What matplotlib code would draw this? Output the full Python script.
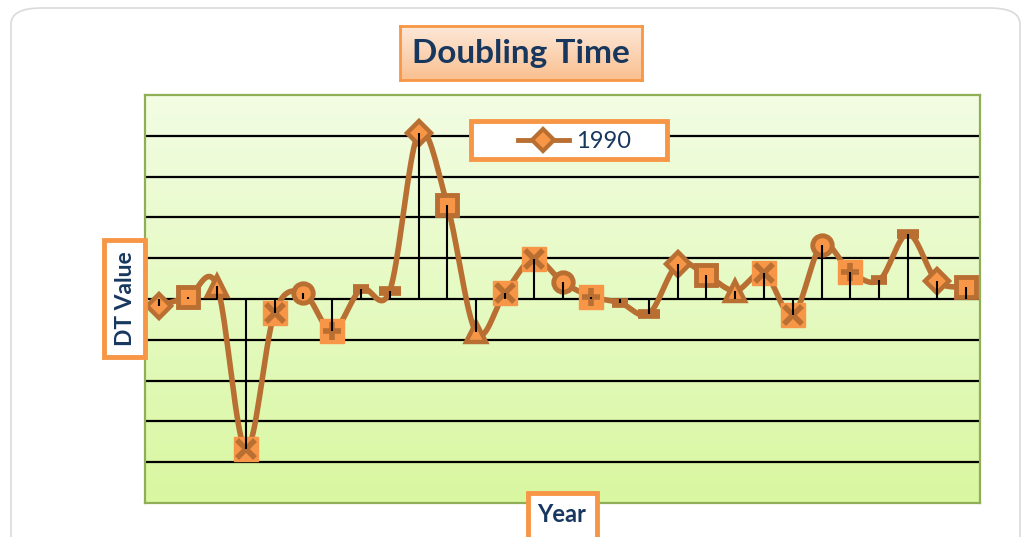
import numpy as np
import matplotlib
matplotlib.use('agg')
import matplotlib.pyplot as plt
from matplotlib.patches import FancyBboxPatch, Rectangle
from matplotlib.lines import Line2D

# values (one gridline = 1 unit)
years = list(range(1, 30))
dt_values = [-0.17, 0.05, 0.32, -3.68, -0.34, 0.15, -0.78, 0.24, 0.20, 4.06,
             2.30, -0.82, 0.15, 0.99, 0.42, 0.06, -0.09, -0.36, 0.85, 0.59,
             0.20, 0.64, -0.39, 1.32, 0.67, 0.46, 1.60, 0.44, 0.30]
series_name = '1990'
title = 'Doubling Time'
xlabel = 'Year'
ylabel = 'DT Value'

LINE = '#B96F32'
FILL = '#F79646'
NAVY = '#17375E'
W, H = 1024, 537


def fx(px):
    return px / W


def fy(py):
    return 1 - py / H


def smooth(x, y, n=20):
    # bezier smoothing like the spreadsheet "smoothed line" option
    x = np.asarray(x, float)
    y = np.asarray(y, float)
    xs, ys = [], []
    m = len(x)
    for i in range(m - 1):
        p0 = (x[max(i - 1, 0)], y[max(i - 1, 0)])
        p1 = (x[i], y[i])
        p2 = (x[i + 1], y[i + 1])
        p3 = (x[min(i + 2, m - 1)], y[min(i + 2, m - 1)])
        c1 = (p1[0] + (p2[0] - p0[0]) / 6, p1[1] + (p2[1] - p0[1]) / 6)
        c2 = (p2[0] - (p3[0] - p1[0]) / 6, p2[1] - (p3[1] - p1[1]) / 6)
        t = np.linspace(0, 1, n)
        a, b, c, d = (1 - t) ** 3, 3 * (1 - t) ** 2 * t, 3 * (1 - t) * t ** 2, t ** 3
        xs.append(a * p1[0] + b * c1[0] + c * c2[0] + d * p2[0])
        ys.append(a * p1[1] + b * c1[1] + c * c2[1] + d * p2[1])
    return np.concatenate(xs), np.concatenate(ys)


fig = plt.figure(figsize=(W / 100, H / 100), dpi=100)
fig.patch.set_facecolor('white')

# outer rounded chart frame
frame = FancyBboxPatch((fx(11), fy(560)), fx(1009), 552 / H,
                       boxstyle='round,pad=0,rounding_size=0.03',
                       transform=fig.transFigure, facecolor='white',
                       edgecolor='#DADADA', linewidth=1.2, zorder=-5)
fig.patches.append(frame)

ax = fig.add_axes([fx(145), fy(503), fx(980 - 145), (503 - 95) / H])
grad = np.linspace(0, 1, 256).reshape(-1, 1)
top = np.array([0.95, 0.99, 0.89])
bot = np.array([0.85, 0.97, 0.63])
img = top + (bot - top) * grad[:, :, None]
ax.imshow(img, extent=[0.5, 29.5, -5, 5], aspect='auto', zorder=0)
ax.set_xlim(0.5, 29.5)
ax.set_ylim(-5, 5)
for s in ax.spines.values():
    s.set_color('#8FAE55')
    s.set_linewidth(1.6)
ax.set_yticks(range(-4, 5))
ax.set_xticks([])
ax.tick_params(left=False, labelleft=False)
for v in range(-4, 5):
    ax.axhline(v, color='black', lw=1.6, zorder=1)

sx, sy = smooth(years, dt_values)
ax.plot(sx, sy, color=LINE, lw=4, zorder=3, solid_capstyle='round')

for i, (x, y) in enumerate(zip(years, dt_values)):
    k = i % 9
    if k == 0:
        ax.plot(x, y, 'D', ms=12, mfc=FILL, mec=LINE, mew=3.2, zorder=4)
    elif k == 1:
        ax.plot(x, y, 's', ms=14.5, mfc=FILL, mec=LINE, mew=3.5, zorder=4)
    elif k == 2:
        ax.plot(x, y, '^', ms=14, mfc=FILL, mec=LINE, mew=3.2, zorder=4)
    elif k in (3, 4):
        ax.plot(x, y, 's', ms=17, mfc=FILL, mec=FILL, mew=1, zorder=4)
        ax.plot(x, y, 'x', ms=13, mec=LINE, mew=4, zorder=4)
    elif k == 5:
        ax.plot(x, y, 'o', ms=14, mfc=FILL, mec=LINE, mew=3.5, zorder=4)
    elif k == 6:
        ax.plot(x, y, 's', ms=17, mfc=FILL, mec=FILL, mew=1, zorder=4)
        ax.plot(x, y, '+', ms=13, mec=LINE, mew=4, zorder=4)
    else:
        ax.plot(x, y, '_', ms=16 if k == 8 else 12, mec=LINE, mew=7, zorder=4)

# drop lines
ax.vlines(years, 0, dt_values, color='black', lw=1.5, zorder=5)

# legend
fig.patches.append(Rectangle((fx(471), fy(159)), fx(196), 38 / H, transform=fig.transFigure,
                             facecolor='white', edgecolor=FILL, lw=3.5, zorder=6))
fig.lines.append(Line2D([fx(518), fx(569)], [fy(140)] * 2, transform=fig.transFigure,
                        color=LINE, lw=3.5, zorder=7))
fig.lines.append(Line2D([fx(543)], [fy(140)], transform=fig.transFigure, marker='D',
                        ms=11, mfc=FILL, mec=LINE, mew=3, zorder=8))
fig.text(fx(576), fy(141), series_name, fontsize=17, color=NAVY, va='center',
         ha='left', family='Lato', zorder=8)

# title box with gradient
tax = fig.add_axes([fx(400), fy(80), fx(242), 54 / H], zorder=6)
t_top = np.array([0.99, 0.91, 0.85])
t_bot = np.array([0.98, 0.75, 0.56])
tax.imshow(t_top + (t_bot - t_top) * grad[:, :, None], extent=[0, 1, 0, 1], aspect='auto')
tax.set_xticks([])
tax.set_yticks([])
for s in tax.spines.values():
    s.set_color(FILL)
    s.set_linewidth(2)
tax.text(0.5, 0.5, title, transform=tax.transAxes, ha='center', va='center',
         fontsize=24, fontweight='bold', color=NAVY, family='Lato')

# y label box
fig.patches.append(Rectangle((fx(104), fy(357)), fx(41), 117 / H, transform=fig.transFigure,
                             facecolor='white', edgecolor=FILL, lw=3.5, zorder=6))
fig.text(fx(125), fy(299), ylabel, rotation=90, ha='center', va='center', fontsize=16.5,
         fontweight='bold', color=NAVY, family='Lato', zorder=7)

# x label box
fig.patches.append(Rectangle((fx(528), fy(545)), fx(69), 52 / H, transform=fig.transFigure,
                             facecolor='white', edgecolor=FILL, lw=3.5, zorder=6))
fig.text(fx(562), fy(515), xlabel, ha='center', va='center', fontsize=17,
         fontweight='bold', color=NAVY, family='Lato', zorder=7)

plt.savefig('out.png', dpi=100)
